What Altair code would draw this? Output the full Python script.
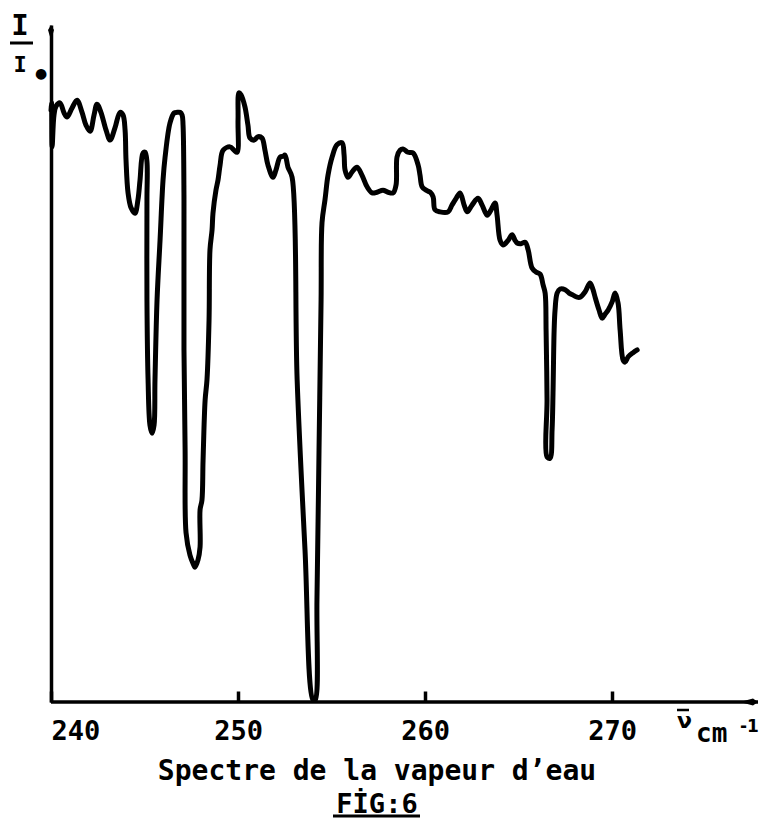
import altair as alt
import pandas as pd

# Water-vapour transmission spectrum, wavenumber (cm-1) vs I/I0
wavenumber = [
    240.00, 240.03, 240.06, 240.16, 240.27, 240.48, 240.70, 240.86, 241.12, 241.39,
    241.66, 241.87, 242.09, 242.30, 242.46, 242.67, 242.94, 243.16, 243.42, 243.69,
    243.85, 243.96, 244.01, 244.12, 244.28, 244.49, 244.65, 244.76, 244.92, 245.03,
    245.13, 245.13, 245.13, 245.19, 245.29, 245.40, 245.51, 245.56, 245.67, 245.83,
    245.99, 246.10, 246.36, 246.58, 246.74, 246.90, 247.01, 247.06, 247.11, 247.11,
    247.17, 247.22, 247.43, 247.59, 247.70, 247.86, 247.97, 247.97, 248.07, 248.13,
    248.24, 248.34, 248.45, 248.50, 248.61, 248.66, 248.82, 248.93, 249.04, 249.20,
    249.57, 249.79, 249.95, 250.00, 250.05, 250.16, 250.37, 250.53, 250.64, 250.86,
    251.07, 251.28, 251.44, 251.60, 251.87, 252.03, 252.25, 252.41, 252.51, 252.67,
    252.89, 253.16, 253.58, 254.01, 254.12, 254.22, 254.33, 254.44, 254.49, 254.65,
    254.81, 255.03, 255.29, 255.56, 255.67, 255.72, 255.88, 256.10, 256.36, 256.63,
    256.90, 257.17, 257.43, 257.75, 258.02, 258.29, 258.45, 258.50, 258.66, 258.82,
    259.09, 259.36, 259.63, 259.73, 259.84, 260.05, 260.27, 260.43, 260.53, 260.80,
    261.23, 261.44, 261.66, 261.87, 262.09, 262.25, 262.51, 262.83, 263.05, 263.32,
    263.53, 263.74, 263.85, 264.01, 264.17, 264.44, 264.65, 264.81, 264.92, 265.13,
    265.35, 265.51, 265.72, 265.94, 266.15, 266.31, 266.42, 266.47, 266.52, 266.52,
    266.68, 266.79, 266.84, 266.90, 266.95, 267.06, 267.22, 267.49, 267.70, 267.91,
    268.13, 268.29, 268.56, 268.82, 268.98, 269.09, 269.30, 269.47, 269.63, 269.79,
    270.00, 270.16, 270.32, 270.43, 270.59, 270.70, 270.86, 271.12, 271.34,
]
intensity = [
    0.874, 0.885, 0.820, 0.867, 0.880, 0.885, 0.870, 0.864, 0.877, 0.889,
    0.871, 0.852, 0.843, 0.867, 0.883, 0.871, 0.845, 0.830, 0.848, 0.871,
    0.867, 0.845, 0.801, 0.752, 0.730, 0.722, 0.742, 0.771, 0.811, 0.812,
    0.798, 0.742, 0.594, 0.476, 0.409, 0.397, 0.409, 0.476, 0.594, 0.682,
    0.771, 0.805, 0.855, 0.870, 0.871, 0.871, 0.867, 0.852, 0.742, 0.520,
    0.372, 0.250, 0.217, 0.205, 0.199, 0.210, 0.229, 0.284, 0.298, 0.357,
    0.446, 0.476, 0.564, 0.668, 0.697, 0.722, 0.756, 0.771, 0.793, 0.815,
    0.820, 0.815, 0.812, 0.860, 0.900, 0.897, 0.879, 0.852, 0.833, 0.830,
    0.835, 0.833, 0.815, 0.793, 0.775, 0.786, 0.805, 0.806, 0.808, 0.790,
    0.775, 0.476, 0.225, 0.003, 0.003, 0.151, 0.372, 0.594, 0.708, 0.742,
    0.778, 0.805, 0.823, 0.826, 0.808, 0.786, 0.775, 0.783, 0.790, 0.778,
    0.761, 0.752, 0.753, 0.756, 0.753, 0.752, 0.764, 0.805, 0.815, 0.817,
    0.812, 0.811, 0.793, 0.778, 0.761, 0.756, 0.753, 0.746, 0.727, 0.724,
    0.724, 0.734, 0.744, 0.752, 0.734, 0.724, 0.734, 0.744, 0.734, 0.719,
    0.727, 0.737, 0.719, 0.682, 0.675, 0.682, 0.690, 0.682, 0.678, 0.677,
    0.679, 0.668, 0.641, 0.635, 0.632, 0.616, 0.604, 0.549, 0.446, 0.362,
    0.360, 0.402, 0.456, 0.549, 0.579, 0.604, 0.610, 0.609, 0.604, 0.601,
    0.598, 0.598, 0.606, 0.619, 0.609, 0.598, 0.579, 0.567, 0.573, 0.579,
    0.591, 0.604, 0.589, 0.549, 0.505, 0.502, 0.510, 0.516, 0.520,
]
tick_labels = [240, 250, 260, 270]

title_text = "Spectre de la vapeur d’eau"
figure_text = "FİG:6"

W, H = 707, 677
TICK = 11
FONT = "DejaVu Sans Mono"

spectrum = pd.DataFrame({"nu": wavenumber, "I": intensity, "i": range(len(wavenumber))})

x_scale = alt.Scale(domain=[240, 277.8], nice=False, zero=False, padding=0)
y_scale = alt.Scale(domain=[0, 1], nice=False, zero=False, padding=0)

# The x axis is lifted by the tick length so that its ticks stand up
# from the baseline; the baseline itself is drawn as a separate rule.
curve = alt.Chart(spectrum).mark_line(
    color="black", strokeWidth=5, strokeJoin="round", strokeCap="round",
    interpolate="catmull-rom",
).encode(
    x=alt.X("nu:Q", scale=x_scale, axis=alt.Axis(
        values=tick_labels, title=None, grid=False, domain=False,
        ticks=True, tickSize=TICK, tickWidth=3.5, tickColor="black",
        offset=-TICK,
        labelFont=FONT, labelFontWeight="bold", labelFontSize=27,
        labelColor="black", labelPadding=16, labelFlush=True,
    )),
    y=alt.Y("I:Q", scale=y_scale, axis=alt.Axis(
        title=None, grid=False, ticks=False, labels=False,
        domainColor="black", domainWidth=3.5,
    )),
    order="i:Q",
)

one = pd.DataFrame({"k": [0]})

baseline = alt.Chart(one).mark_rule(color="black", strokeWidth=3.5).encode(
    x=alt.value(0), x2=alt.value(W), y=alt.value(H))

# arrow heads at the ends of both axes
y_arrow = alt.Chart(one).mark_point(
    shape="M0,0L0.6,1L0,3L-0.6,1Z", size=100, filled=True, color="black", opacity=1
).encode(x=alt.value(0), y=alt.value(0))
x_arrow = alt.Chart(one).mark_point(
    shape="M0,0L-1,0.7L-3.6,0L-1,-0.7Z", size=100, filled=True, color="black", opacity=1
).encode(x=alt.value(W), y=alt.value(H))


def label(text, x, y, size, align="left", weight="bold", font=FONT):
    return alt.Chart(pd.DataFrame({"t": [text]})).mark_text(
        font=font, fontSize=size, fontWeight=weight, color="black",
        align=align, baseline="alphabetic",
    ).encode(text="t:N", x=alt.value(x), y=alt.value(y))


# I / I0 label on the vertical axis
y_num = label("I", -31, 10, 29, align="center")
y_bar = alt.Chart(one).mark_rule(color="black", strokeWidth=3).encode(
    x=alt.value(-41), x2=alt.value(-18), y=alt.value(18))
y_den = label("I", -31, 47, 22, align="center")
y_sub = label("●", -16, 53, 14, font="DejaVu Sans")

# wavenumber unit at the end of the horizontal axis
nu_sym = label("ν", 626, 703, 22, font="DejaVu Sans")
nu_bar = alt.Chart(one).mark_rule(color="black", strokeWidth=2.5).encode(
    x=alt.value(626), x2=alt.value(638), y=alt.value(685))
nu_unit = label("cm", 645, 717, 26)
nu_exp = label("-1", 689, 707, 17, font="DejaVu Sans")

title = label(title_text, 326, 755, 28, align="center")
fig = label(figure_text, 326, 788, 27, align="center")
fig_line = alt.Chart(one).mark_rule(color="black", strokeWidth=3).encode(
    x=alt.value(282), x2=alt.value(369), y=alt.value(791))

chart = alt.layer(
    curve, baseline, y_arrow, x_arrow, y_num, y_bar, y_den, y_sub,
    nu_sym, nu_bar, nu_unit, nu_exp, title, fig, fig_line,
).properties(
    width=W, height=H,
    padding={"left": 51, "top": 25, "right": 7, "bottom": 121},
    autosize=alt.AutoSizeParams(type="none"),
    background="white",
).configure_view(stroke=None)

chart.save("out.html", embed_options={"renderer": "svg", "actions": False})
